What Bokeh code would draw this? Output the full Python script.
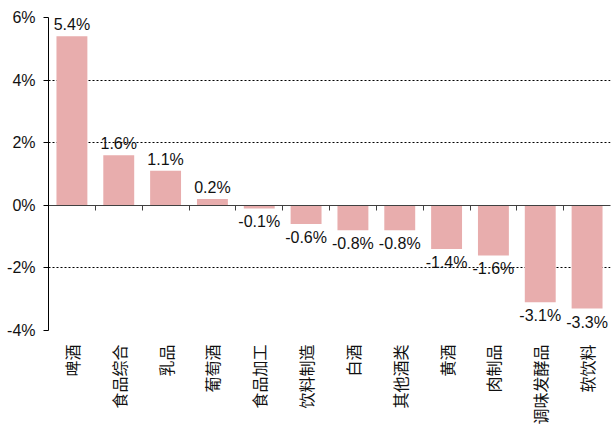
import math
from bokeh.plotting import figure
from bokeh.models import (ColumnDataSource, Range1d, FixedTicker, LinearAxis,
                          CustomJSTickFormatter)
from bokeh.core.properties import value
from bokeh.embed import file_html
from bokeh.resources import INLINE

categories = ["啤酒", "食品综合", "乳品", "葡萄酒", "食品加工", "饮料制造",
              "白酒", "其他酒类", "黄酒", "肉制品", "调味发酵品", "软饮料"]
values = [5.4, 1.6, 1.1, 0.2, -0.1, -0.6, -0.8, -0.8, -1.4, -1.6, -3.1, -3.3]
y_ticks = [-4, -2, 0, 2, 4, 6]

positions = list(range(1, len(categories) + 1))
labels = [f"{v:.1f}%" for v in values]

src = ColumnDataSource(dict(x=positions, y=values, lab=labels))
pos_src = ColumnDataSource(dict(
    x=[x for x, v in zip(positions, values) if v >= 0],
    y=[v for v in values if v >= 0],
    lab=[l for l, v in zip(labels, values) if v >= 0]))
neg_src = ColumnDataSource(dict(
    x=[x for x, v in zip(positions, values) if v < 0],
    y=[v for v in values if v < 0],
    lab=[l for l, v in zip(labels, values) if v < 0]))

p = figure(width=612, height=427, output_backend="svg", toolbar_location=None,
           x_range=Range1d(0.5, len(categories) + 0.5),
           y_range=Range1d(min(y_ticks), max(y_ticks)),
           x_axis_location=None, y_axis_location="left",
           min_border_left=48, min_border_right=2, min_border_top=17,
           min_border_bottom=93)
p.outline_line_color = None
p.background_fill_color = "white"
p.border_fill_color = "white"

p.vbar(x="x", top="y", bottom=0, width=0.66, source=src,
       fill_color="#E8ADAD", line_color=None)

font = "Liberation Sans"
p.text(x="x", y="y", text="lab", source=pos_src, text_align="center",
       text_baseline="bottom", y_offset=-3, text_font=value(font),
       text_font_size="16px", text_color="#111111")
p.text(x="x", y="y", text="lab", source=neg_src, text_align="center",
       text_baseline="top", y_offset=5, text_font=value(font),
       text_font_size="16px", text_color="#111111")

# y axis
yax = p.yaxis[0]
yax.ticker = FixedTicker(ticks=y_ticks)
yax.formatter = CustomJSTickFormatter(code="return tick + '%';")
yax.major_label_text_font = font
yax.major_label_text_font_size = "16px"
yax.major_label_text_color = "#111111"
yax.axis_line_color = "black"
yax.major_tick_line_color = "black"
yax.major_tick_out = 5
yax.major_tick_in = 0
yax.minor_tick_line_color = None
yax.major_label_standoff = 8

p.ygrid.ticker = FixedTicker(ticks=y_ticks)
p.ygrid.grid_line_color = "black"
p.ygrid.grid_line_dash = "2 2"
p.ygrid.grid_line_width = 1
p.xgrid.grid_line_color = None

# category labels below
lab_axis = LinearAxis(ticker=FixedTicker(ticks=positions),
                      major_label_overrides={x: c for x, c in zip(positions, categories)},
                      major_label_orientation=math.pi / 2,
                      major_label_text_font="Noto Sans CJK SC",
                      major_label_text_font_size="16px",
                      major_label_text_color="#111111",
                      major_label_standoff=8,
                      axis_line_color=None, major_tick_line_color=None,
                      minor_tick_line_color=None)
p.add_layout(lab_axis, "below")

# zero axis with ticks between categories
zero_axis = LinearAxis(fixed_location=0,
                       ticker=FixedTicker(ticks=[x + 0.5 for x in positions[:-1]]),
                       formatter=CustomJSTickFormatter(code="return '';"),
                       major_label_standoff=0,
                       axis_line_color="#404040", major_tick_line_color="#404040",
                       major_tick_out=5, major_tick_in=0,
                       minor_tick_line_color=None)
p.add_layout(zero_axis, "below")

open("out.html", "w").write(file_html(p, INLINE))
